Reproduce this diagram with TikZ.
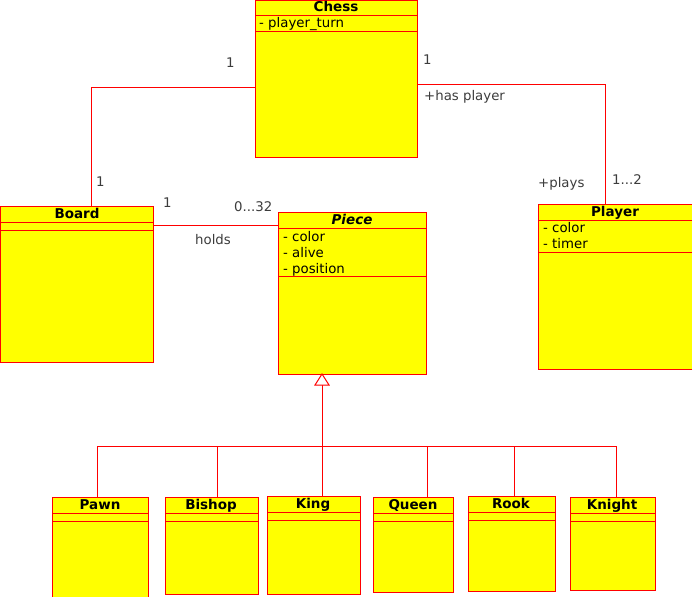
\documentclass[tikz,border=0pt]{standalone}
\usepackage{fontspec}
\setmainfont{DejaVu Sans}
\usetikzlibrary{calc}
\definecolor{umlfill}{RGB}{255,255,0}
\definecolor{umlline}{RGB}{255,0,0}
\definecolor{labelgray}{RGB}{60,60,60}
\begin{document}
\begin{tikzpicture}[x=1pt,y=-1pt,
  classbox/.style={draw=umlline,fill=umlfill,line width=1pt,anchor=north west,inner sep=0pt,outer sep=0pt},
  sepline/.style={draw=umlline,line width=1pt},
  conn/.style={draw=umlline,line width=1pt},
  title/.style={font=\fontsize{13.5}{16}\selectfont\bfseries,inner sep=0pt,anchor=base},
  attr/.style={font=\fontsize{13.3}{16}\selectfont,inner sep=0pt,anchor=base west},
  lbl/.style={font=\fontsize{13.3}{16}\selectfont,text=labelgray,inner sep=0pt,anchor=base west}]
\useasboundingbox (0,0) rectangle (692,596);

% class boxes: name, top-left, size
\node[classbox,minimum width=162pt,minimum height=156pt] (chess) at (255,1) {};
\node[classbox,minimum width=153pt,minimum height=156pt] (board) at (0,206) {};
\node[classbox,minimum width=148pt,minimum height=162pt] (piece) at (278,212) {};
\node[classbox,minimum width=156pt,minimum height=165pt] (player) at (538,204) {};
\node[classbox,minimum width=96pt,minimum height=100pt] (pawn) at (52,497) {};
\node[classbox,minimum width=93pt,minimum height=97pt] (bishop) at (165,497) {};
\node[classbox,minimum width=93pt,minimum height=98pt] (king) at (267,496) {};
\node[classbox,minimum width=80pt,minimum height=95pt] (queen) at (373,497) {};
\node[classbox,minimum width=87pt,minimum height=95pt] (rook) at (468,496) {};
\node[classbox,minimum width=85pt,minimum height=93pt] (knight) at (570,497) {};

% compartment separators
\draw[sepline] (chess.west |- 0,16) -- (chess.east |- 0,16);
\draw[sepline] (chess.west |- 0,32) -- (chess.east |- 0,32);
\draw[sepline] (board.west |- 0,222) -- (board.east |- 0,222);
\draw[sepline] (board.west |- 0,230) -- (board.east |- 0,230);
\draw[sepline] (piece.west |- 0,228) -- (piece.east |- 0,228);
\draw[sepline] (piece.west |- 0,276) -- (piece.east |- 0,276);
\draw[sepline] (player.west |- 0,220) -- (player.east |- 0,220);
\draw[sepline] (player.west |- 0,252) -- (player.east |- 0,252);
\foreach \c in {pawn,bishop,king,queen,rook,knight}{
  \draw[sepline] ($(\c.north west)+(0,16)$) -- ($(\c.north east)+(0,16)$);
  \draw[sepline] ($(\c.north west)+(0,24)$) -- ($(\c.north east)+(0,24)$);
}

% titles
\node[title] (tchess) at (336,12) {Chess};
\node[title] (tboard) at (77,218) {Board};
\node[title,font=\fontsize{13.5}{16}\selectfont\bfseries\itshape] (tpiece) at (352,224) {Piece};
\node[title] (tplayer) at (615,216) {Player};
\node[title] (tpawn) at (100,509) {Pawn};
\node[title] (tbishop) at (211,509) {Bishop};
\node[title] (tking) at (313,508) {King};
\node[title] (tqueen) at (413,509) {Queen};
\node[title] (trook) at (511,508) {Rook};
\node[title] (tknight) at (612,509) {Knight};

% attributes
\node[attr] (a1) at (259,28) {- player\_turn};
\node[attr] (a2) at (283,241) {- color};
\node[attr] (a3) at (283,257) {- alive};
\node[attr] (a4) at (283,273) {- position};
\node[attr] (a5) at (543,232) {- color};
\node[attr] (a6) at (543,248) {- timer};

% associations
\coordinate (cbL) at ($(chess.north west)+(0,87)$);
\coordinate (cbB) at ($(board.north west)+(91,0)$);
\draw[conn] (cbL) -| (cbB);
\coordinate (cpR) at ($(chess.north east)+(0,84)$);
\coordinate (cpP) at ($(player.north west)+(67,0)$);
\draw[conn] (cpR) -| (cpP);
\coordinate (bpB) at ($(board.north east)+(0,19)$);
\coordinate (bpP) at (piece.west |- bpB);
\draw[conn] (bpB) -- (bpP);

% association labels
\node[lbl] (l1) at (226,68) {1};
\node[lbl] (l2) at (423,65) {1};
\node[lbl] (l3) at (424,101) {+has player};
\node[lbl] (l4) at (96,186) {1};
\node[lbl] (l5) at (538,187) {+plays};
\node[lbl] (l6) at (612,184) {1...2};
\node[lbl] (l7) at (163,207) {1};
\node[lbl] (l8) at (234,211) {0...32};
\node[lbl] (l9) at (195,244) {holds};

% generalization
\coordinate (tri) at ($(piece.south)+(-30,11)$);
\coordinate (bus) at (0,446);
\draw[conn] (tri -| 322,0) -- (322,446);
\draw[conn] (pawn.north -| 97,0) |- (bus -| 322,0);
\draw[conn] (bishop.north -| 217,0) -- (217,446);
\draw[conn] (king.north -| 322,0) -- (322,446);
\draw[conn] (queen.north -| 427,0) -- (427,446);
\draw[conn] (rook.north -| 514,0) -- (514,446);
\draw[conn] (knight.north -| 616,0) |- (bus -| 322,0);
\draw[conn,fill=white] (322,374) -- (329,385) -- (315,385) -- cycle;
\end{tikzpicture}
\end{document}
